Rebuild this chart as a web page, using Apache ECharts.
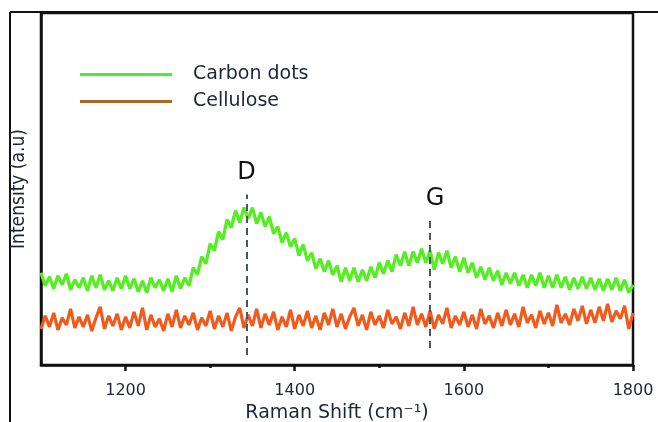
<!DOCTYPE html>
<html>
<head>
<meta charset="utf-8">
<script src="https://cdn.jsdelivr.net/npm/echarts@6/dist/echarts.min.js"></script>
<style>
  html, body { margin: 0; padding: 0; background: #fff; }
  #chart { width: 658px; height: 422px; }
</style>
</head>
<body>
<div id="chart"></div>
<script>
// Raman shift samples (cm-1), every 5
const shift = [
  1100, 1105, 1110, 1115, 1120, 1125, 1130, 1135, 1140, 1145,
  1150, 1155, 1160, 1165, 1170, 1175, 1180, 1185, 1190, 1195,
  1200, 1205, 1210, 1215, 1220, 1225, 1230, 1235, 1240, 1245,
  1250, 1255, 1260, 1265, 1270, 1275, 1280, 1285, 1290, 1295,
  1300, 1305, 1310, 1315, 1320, 1325, 1330, 1335, 1340, 1345,
  1350, 1355, 1360, 1365, 1370, 1375, 1380, 1385, 1390, 1395,
  1400, 1405, 1410, 1415, 1420, 1425, 1430, 1435, 1440, 1445,
  1450, 1455, 1460, 1465, 1470, 1475, 1480, 1485, 1490, 1495,
  1500, 1505, 1510, 1515, 1520, 1525, 1530, 1535, 1540, 1545,
  1550, 1555, 1560, 1565, 1570, 1575, 1580, 1585, 1590, 1595,
  1600, 1605, 1610, 1615, 1620, 1625, 1630, 1635, 1640, 1645,
  1650, 1655, 1660, 1665, 1670, 1675, 1680, 1685, 1690, 1695,
  1700, 1705, 1710, 1715, 1720, 1725, 1730, 1735, 1740, 1745,
  1750, 1755, 1760, 1765, 1770, 1775, 1780, 1785, 1790, 1795,
  1800
];

// intensity (a.u.)
const carbonDots = [
  92, 79, 88, 76, 89, 80, 91, 75, 85, 77,
  87, 74, 89, 77, 90, 75, 84, 74, 87, 76,
  89, 76, 86, 73, 84, 72, 87, 77, 85, 74,
  86, 73, 89, 76, 87, 79, 97, 90, 108, 101,
  121, 114, 133, 125, 145, 137, 154, 142, 157, 146,
  157, 141, 152, 138, 148, 131, 138, 122, 132, 118,
  126, 109, 120, 104, 112, 96, 106, 93, 104, 90,
  99, 83, 97, 84, 97, 83, 95, 84, 98, 87,
  102, 91, 104, 93, 110, 99, 113, 99, 113, 102,
  116, 102, 114, 95, 112, 101, 114, 97, 108, 93,
  107, 92, 102, 87, 98, 85, 97, 84, 94, 80,
  92, 81, 92, 79, 90, 77, 90, 79, 92, 77,
  89, 77, 90, 77, 88, 75, 87, 76, 88, 76,
  87, 75, 86, 74, 86, 75, 87, 74, 85, 72,
  80
];

const cellulose = [
  36, 49, 38, 52, 35, 47, 40, 56, 37, 48,
  38, 50, 34, 47, 58, 36, 49, 39, 51, 35,
  48, 37, 53, 39, 57, 35, 50, 38, 46, 34,
  51, 38, 55, 37, 49, 40, 52, 35, 47, 39,
  54, 36, 49, 38, 52, 34, 48, 57, 37, 50,
  39, 56, 37, 51, 40, 53, 35, 48, 38, 55,
  36, 50, 39, 54, 37, 49, 35, 52, 40, 56,
  38, 51, 36, 48, 57, 39, 50, 35, 53, 40,
  49, 37, 55, 41, 48, 36, 52, 39, 58, 40,
  51, 38, 54, 36, 50, 41, 57, 37, 49, 40,
  53, 38, 50, 36, 56, 41, 49, 37, 52, 39,
  55, 40, 51, 38, 58, 42, 50, 37, 54, 41,
  52, 39, 60, 42, 51, 40, 56, 44, 59, 41,
  55, 42, 58, 44, 61, 43, 54, 46, 59, 36,
  52
];

// D and G bands
const bandNames = ['D', 'G'];
const bandShift = [1343, 1560];
const bandLow = [10, 17];
const bandHigh = [170, 147];

const majorTicks = [1200, 1400, 1600, 1800];
const minorTicks = [1300, 1500, 1700];

const font = 'DejaVu Sans';
const ink = '#1c2538';

const chart = echarts.init(document.getElementById('chart'));

const pairs = arr => arr.map((v, i) => [shift[i], v]);

const bandLines = bandNames.map((n, i) => [
    { coord: [bandShift[i], bandLow[i]] },
    {
        coord: [bandShift[i], bandHigh[i]],
        label: { formatter: n, distance: i === 0 ? 10 : 7, offset: i === 0 ? [0, 0] : [5, 0] }
    }
]);

const option = {
    animation: false,
    grid: {
        left: 41, right: 25, top: 13, bottom: 57,
        outerBoundsMode: 'none',
        containLabel: false,
        show: true,
        borderColor: '#111',
        borderWidth: 2.5
    },
    legend: {
        orient: 'vertical',
        left: 75,
        top: 60,
        icon: 'rect',
        itemWidth: 92,
        itemHeight: 3,
        itemGap: 8,
        textStyle: { fontFamily: font, fontSize: 19, color: ink, padding: [0, 0, 0, 16] },
        data: [
            { name: 'Carbon dots', itemStyle: { color: '#44ee33' } },
            { name: 'Cellulose', itemStyle: { color: '#a8692a' } }
        ]
    },
    xAxis: [{
        type: 'value',
        min: 1100,
        max: 1800,
        interval: 100,
        name: 'Raman Shift (cm⁻¹)',
        nameLocation: 'middle',
        nameGap: 35,
        nameTextStyle: { fontFamily: font, fontSize: 19, color: ink },
        axisLine: { show: true, lineStyle: { color: '#111', width: 2.5 } },
        axisTick: { show: true, customValues: majorTicks, length: 6, lineStyle: { color: '#111', width: 2.5 } },
        axisLabel: {
            customValues: majorTicks, formatter: v => String(v),
            fontFamily: font, fontSize: 16, color: ink, margin: 18
        },
        splitLine: { show: false }
    }, {
        type: 'value',
        min: 1100,
        max: 1800,
        position: 'bottom',
        axisLine: { show: false },
        axisTick: { show: true, customValues: minorTicks, length: 3, lineStyle: { color: '#111', width: 2.5 } },
        axisLabel: { show: false },
        splitLine: { show: false }
    }],
    yAxis: {
        type: 'value',
        min: 0,
        max: 351,
        name: 'Intensity (a.u)',
        nameLocation: 'middle',
        nameGap: 12,
        nameTextStyle: { fontFamily: 'DejaVu Sans Condensed', fontSize: 19, color: ink },
        axisLine: { show: true, lineStyle: { color: '#111', width: 2.5 } },
        axisTick: { show: false },
        axisLabel: { show: false },
        splitLine: { show: false }
    },
    series: [{
        name: 'Carbon dots',
        type: 'line',
        showSymbol: false,
        data: pairs(carbonDots),
        lineStyle: { color: '#55ee22', width: 3.3 },
        itemStyle: { color: '#55ee22' },
        markLine: {
            silent: true,
            symbol: 'none',
            lineStyle: { color: '#4a5566', width: 2, type: [7, 5] },
            label: { show: true, position: 'end', fontFamily: font, fontSize: 24, color: '#111' },
            data: bandLines
        }
    }, {
        name: 'Cellulose',
        type: 'line',
        showSymbol: false,
        data: pairs(cellulose),
        lineStyle: { color: '#f25a1c', width: 3.2 },
        itemStyle: { color: '#f25a1c' }
    }],
    graphic: [
        { type: 'line', shape: { x1: 10, y1: 12, x2: 658, y2: 12 }, style: { stroke: '#111', lineWidth: 2 } },
        { type: 'line', shape: { x1: 10, y1: 12, x2: 10, y2: 422 }, style: { stroke: '#111', lineWidth: 2 } }
    ]
};

chart.setOption(option);
</script>
</body>
</html>
